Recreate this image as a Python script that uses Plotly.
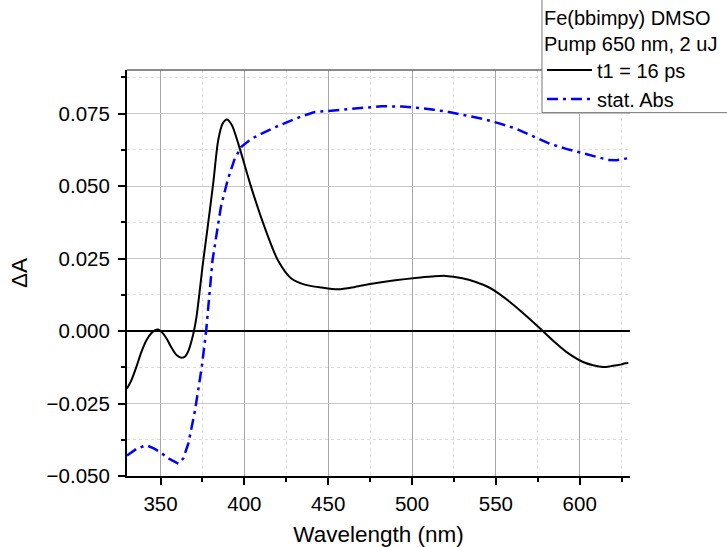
import plotly.graph_objects as go

# ---- data ----
wl_t1 = [330, 332.6, 335.6, 338.6, 341.6, 344.6, 346.8, 348.6, 350.8, 353.5, 356.5,
         359.5, 362.6, 364.8, 366.8, 368.6, 370.2, 371.6, 373, 375, 377.6, 381.4,
         384.4, 387, 389.6, 392.5, 397, 404, 412, 420, 428, 436, 446, 456, 466,
         476, 490, 502, 512, 520, 530, 538, 546, 552, 562, 570, 578, 585, 592,
         602, 608, 614, 618, 622, 625, 627, 629]
dA_t1 = [-0.0198, -0.0170, -0.0124, -0.0072, -0.0032, -0.0007, 0.0003, 0.0005,
         -0.0004, -0.0025, -0.0057, -0.0083, -0.0092, -0.0087, -0.0066, -0.0032,
         0.0008, 0.0055, 0.0120, 0.0220, 0.0336, 0.0508, 0.0658, 0.0715, 0.0729,
         0.0710, 0.0634, 0.0497, 0.0359, 0.0244, 0.0181, 0.0160, 0.0150, 0.0144,
         0.0152, 0.0163, 0.0175, 0.0183, 0.0188, 0.0190, 0.0182, 0.0169, 0.0150,
         0.0128, 0.0083, 0.0042, 0.0, -0.0038, -0.0072, -0.0107, -0.0118, -0.0124,
         -0.0122, -0.0118, -0.0115, -0.0111, -0.0110]

wl_abs = [330, 336, 341.6, 346, 349.6, 355, 360.6, 363.5, 366.6, 370.6, 374.6, 377.2,
          381, 386, 390, 394, 398, 404, 410, 418, 426, 434, 442, 454, 466, 482, 494,
          502, 512, 522, 532, 542, 552, 562, 572, 582, 592, 602, 612, 617, 622, 627, 630]
abs_stat = [-0.0429, -0.0405, -0.0394, -0.0405, -0.0417, -0.0440, -0.0457, -0.0440,
            -0.0388, -0.0273, -0.0124, 0.0, 0.0244, 0.0428, 0.0520, 0.0590, 0.0634,
            0.0662, 0.0680, 0.0702, 0.0721, 0.0740, 0.0755, 0.0762, 0.0767, 0.0775,
            0.0774, 0.0770, 0.0764, 0.0755, 0.0743, 0.0732, 0.0716, 0.0698, 0.0672,
            0.0646, 0.0628, 0.0612, 0.0597, 0.0590, 0.0589, 0.0593, 0.0597]

legend_title = "Fe(bbimpy) DMSO<br>Pump 650 nm, 2 uJ"
name_t1 = "t1 = 16 ps"
name_abs = "stat. Abs"
x_title = "Wavelength (nm)"
y_title = "ΔA"

FONT = "Liberation Sans, Arial, sans-serif"

fig = go.Figure()
fig.add_trace(go.Scatter(x=wl_t1, y=dA_t1, mode="lines", name=name_t1,
                         line=dict(color="black", width=2, shape="spline", smoothing=0.8)))
fig.add_trace(go.Scatter(x=wl_abs, y=abs_stat, mode="lines", name=name_abs,
                         line=dict(color="#0000ff", width=2.5, dash="11px,5px,3px,5px")))

# top frame line
fig.add_shape(type="line", xref="paper", yref="paper", x0=0, x1=1, y0=1, y1=1,
              line=dict(color="#666666", width=1.5), layer="above")
# legend frame (runs off the right/top edge of the page, as in the reference)
fig.add_shape(type="rect", xref="paper", yref="paper",
              x0=0.825, x1=1.3, y0=0.895, y1=1.25,
              line=dict(color="#777777", width=1), fillcolor="white", layer="above")

fig.update_layout(
    width=727, height=547,
    margin=dict(l=127, r=97, t=70, b=71, autoexpand=False),
    paper_bgcolor="white", plot_bgcolor="white",
    font=dict(family=FONT, size=20.5, color="black"),
    showlegend=True,
    legend=dict(
        x=0.825, xanchor="left", y=1.176, yanchor="top",
        bgcolor="rgba(0,0,0,0)", borderwidth=0,
        font=dict(family=FONT, size=20, color="black"),
        title=dict(text=legend_title, font=dict(family=FONT, size=20, color="black")),
        tracegroupgap=0, itemwidth=45,
    ),
    xaxis=dict(
        range=[330, 630], tick0=350, dtick=50,
        showline=True, linecolor="black", linewidth=2, mirror=False,
        ticks="outside", ticklen=7, tickwidth=1.5, tickcolor="black",
        showgrid=True, gridcolor="#a8a8a8", gridwidth=1,
        zeroline=False,
        minor=dict(dtick=25, tick0=325, ticks="outside", ticklen=4, tickwidth=1.5,
                   tickcolor="black", showgrid=True, gridcolor="#dddddd",
                   griddash="dot", gridwidth=1),
        title=dict(text=x_title, font=dict(family=FONT, size=22.5), standoff=15),
        tickfont=dict(family=FONT, size=20.5),
        ticklabelstandoff=1,
    ),
    yaxis=dict(
        range=[-0.05, 0.09], tick0=0, dtick=0.025, tickformat=".3f",
        showline=True, linecolor="black", linewidth=2, mirror=False,
        ticks="outside", ticklen=7, tickwidth=1.5, tickcolor="black",
        showgrid=True, gridcolor="#c8c8c8", gridwidth=1,
        zeroline=True, zerolinecolor="black", zerolinewidth=1.5,
        minor=dict(dtick=0.0125, tick0=0, ticks="outside", ticklen=4, tickwidth=1.5,
                   tickcolor="black", showgrid=True, gridcolor="#dddddd",
                   griddash="dot", gridwidth=1),
        title=dict(text=y_title, font=dict(family=FONT, size=22.5), standoff=13),
        tickfont=dict(family=FONT, size=20.5),
        ticklabelstandoff=4,
    ),
)

fig.write_html("out.html")
